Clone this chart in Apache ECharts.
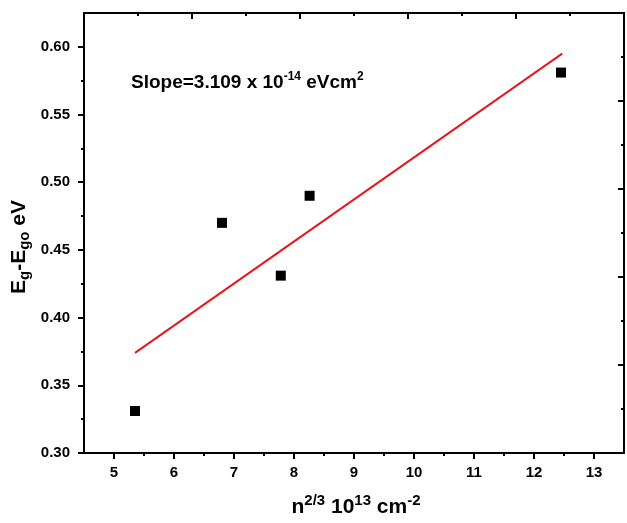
<!DOCTYPE html>
<html>
<head>
<meta charset="utf-8">
<script src="https://cdn.jsdelivr.net/npm/echarts@6/dist/echarts.min.js"></script>
<style>html,body{margin:0;padding:0;background:#fff}#c{width:627px;height:523px}</style>
</head>
<body>
<div id="c"></div>
<script>
// ---- data ----
const xValues = [5.35, 6.80, 7.78, 8.26, 12.45];
const yValues = [0.331, 0.470, 0.431, 0.490, 0.581];
const fitX = [5.35, 12.47];
const fitY = [0.374, 0.595];
const xTickLabels = [5, 6, 7, 8, 9, 10, 11, 12, 13];
const xMinorTicks = [5.5, 6.5, 7.5, 8.5, 9.5, 10.5, 11.5, 12.5];
const yTickLabels = [0.30, 0.35, 0.40, 0.45, 0.50, 0.55, 0.60];
const yMinorTicks = [0.325, 0.375, 0.425, 0.475, 0.525, 0.575];

const chart = echarts.init(document.getElementById('c'), null, {renderer: 'canvas'});
const font = 'Liberation Sans, Arial, sans-serif';
const lineStyle = {color: '#000', width: 2};
const labelStyle = {color: '#000', fontWeight: 'bold', fontSize: 15, fontFamily: font};

const option = {
  animation: false,
  backgroundColor: '#fff',
  grid: {left: 84, top: 13, right: 3, bottom: 70, containLabel: false},
  xAxis: [
    {type: 'value', position: 'bottom', min: 4.5, max: 13.5,
     axisLine: {show: true, lineStyle: lineStyle},
     axisTick: {show: true, customValues: xTickLabels, length: 6, lineStyle: lineStyle},
     axisLabel: Object.assign({show: true, customValues: xTickLabels, margin: 12}, labelStyle),
     splitLine: {show: false}},
    {type: 'value', position: 'bottom', min: 4.5, max: 13.5,
     axisLine: {show: false},
     axisTick: {show: true, customValues: xMinorTicks, length: 3, lineStyle: lineStyle},
     axisLabel: {show: false}, splitLine: {show: false}},
    {type: 'value', position: 'top', min: 0, max: 10, interval: 2,
     axisLine: {show: true, lineStyle: lineStyle},
     axisTick: {show: true, inside: true, length: 6, lineStyle: lineStyle},
     minorTick: {show: true, splitNumber: 2, length: 3, lineStyle: lineStyle},
     axisLabel: {show: false}, splitLine: {show: false}}
  ],
  yAxis: [
    {type: 'value', position: 'left', min: 0.30, max: 0.625,
     axisLine: {show: true, lineStyle: lineStyle},
     axisTick: {show: true, customValues: yTickLabels, length: 6, lineStyle: lineStyle},
     axisLabel: Object.assign({show: true, customValues: yTickLabels, margin: 14,
       formatter: v => v.toFixed(2)}, labelStyle),
     splitLine: {show: false}},
    {type: 'value', position: 'left', min: 0.30, max: 0.625,
     axisLine: {show: false},
     axisTick: {show: true, customValues: yMinorTicks, length: 3, lineStyle: lineStyle},
     axisLabel: {show: false}, splitLine: {show: false}},
    {type: 'value', position: 'right', min: 0, max: 10, interval: 2,
     axisLine: {show: true, lineStyle: lineStyle},
     axisTick: {show: true, inside: true, length: 6, lineStyle: lineStyle},
     minorTick: {show: true, splitNumber: 2, length: 3, lineStyle: lineStyle},
     axisLabel: {show: false}, splitLine: {show: false}}
  ],
  series: [
    {type: 'line', xAxisIndex: 0, yAxisIndex: 0,
     data: fitX.map((x, i) => [x, fitY[i]]),
     showSymbol: false, symbol: 'none',
     lineStyle: {color: '#e3191c', width: 2}},
    {type: 'scatter', xAxisIndex: 0, yAxisIndex: 0,
     data: xValues.map((x, i) => [x, yValues[i]]),
     symbol: 'rect', symbolSize: 10,
     itemStyle: {color: '#000', opacity: 1}}
  ],
  graphic: [
    {type: 'text', left: 131, top: 71,
     style: {
       text: '{b|Slope=3.109 x 10}{sup|-14}{b| eVcm}{sup|2}',
       rich: {
         b: {fontSize: 19, fontWeight: 'bold', fontFamily: font, fill: '#000', lineHeight: 21},
         sup: {fontSize: 12, fontWeight: 'bold', fontFamily: font, fill: '#000', lineHeight: 12, padding: [0, 0, 11, 0]}
       }
     }},
    {type: 'text', x: 356, y: 507,
     style: {
       text: '{b|n}{sup|2/3}{b| 10}{sup|13}{b| cm}{sup|-2}',
       textAlign: 'center', textVerticalAlign: 'middle',
       rich: {
         b: {fontSize: 21, fontWeight: 'bold', fontFamily: font, fill: '#000', lineHeight: 23},
         sup: {fontSize: 15, fontWeight: 'bold', fontFamily: font, fill: '#000', lineHeight: 15, padding: [0, 0, 12, 0]}
       }
     }},
    {type: 'text', x: 19, y: 247, rotation: Math.PI / 2,
     style: {
       text: '{b|E}{sub|g}{b|-E}{sub|go}{b| eV}',
       textAlign: 'center', textVerticalAlign: 'middle',
       rich: {
         b: {fontSize: 21, fontWeight: 'bold', fontFamily: font, fill: '#000', lineHeight: 23},
         sub: {fontSize: 15, fontWeight: 'bold', fontFamily: font, fill: '#000', lineHeight: 15, padding: [11, 0, 0, 0]}
       }
     }}
  ]
};
chart.setOption(option);
</script>
</body>
</html>
